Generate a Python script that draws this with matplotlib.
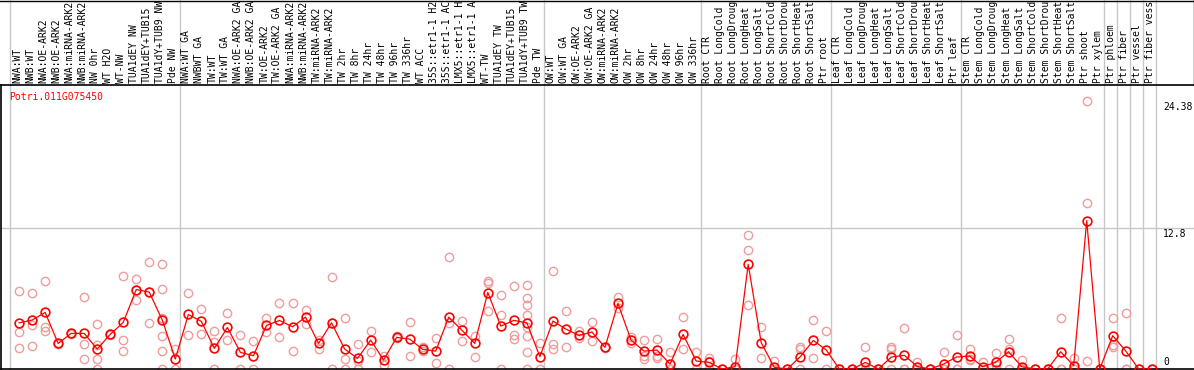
import matplotlib
matplotlib.use('Agg')
from matplotlib import pyplot as plt
from matplotlib.lines import Line2D
import matplotlib.transforms as mtransforms

gene = 'Potri.011G075450'

# sample names as they appear in the strip (long ones are cut at 14 chars)
samples = [
    'NWA:WT', 'NWB:WT', 'NWA:OE-ARK2', 'NWB:OE-ARK2', 'NWA:miRNA-ARK2', 'NWB:miRNA-ARK2',
    'NW 0hr', 'WT H2O', 'WT-NW', 'TUA1dEY NW', 'TUA1dEY+TUB15', 'TUA1dY+TUB9 NW', 'Pde NW',
    'NWA:WT GA', 'NWBWT GA', 'TW:WT', 'TW:WT GA', 'NWA:OE-ARK2 GA', 'NWB:OE-ARK2 GA',
    'TW:OE-ARK2', 'TW:OE-ARK2 GA', 'NWA:miRNA-ARK2', 'NWB:miRNA-ARK2', 'TW:miRNA-ARK2',
    'TW:miRNA-ARK2', 'TW 2hr', 'TW 8hr', 'TW 24hr', 'TW 48hr', 'TW 96hr', 'TW 336hr',
    'WT ACC', '35S::etr1-1 H2', '35S::etr1-1 AC', 'LMX5::etr1-1 H', 'LMX5::etr1-1 A',
    'WT-TW', 'TUA1dEY TW', 'TUA1dEY+TUB15', 'TUA1dY+TUB9 TW', 'Pde TW',
    'OW:WT', 'OW:WT GA', 'OW:OE-ARK2', 'OW:OE-ARK2 GA', 'OW:miRNA-ARK2', 'OW:miRNA-ARK2',
    'OW 2hr', 'OW 8hr', 'OW 24hr', 'OW 48hr', 'OW 96hr', 'OW 336hr',
    'Root CTR', 'Root LongCold', 'Root LongDroug', 'Root LongHeat', 'Root LongSalt',
    'Root ShortCold', 'Root ShortDrou', 'Root ShortHeat', 'Root ShortSalt', 'Ptr root',
    'Leaf CTR', 'Leaf LongCold', 'Leaf LongDroug', 'Leaf LongHeat', 'Leaf LongSalt',
    'Leaf ShortCold', 'Leaf ShortDrou', 'Leaf ShortHeat', 'Leaf ShortSalt', 'Ptr leaf',
    'Stem CTR', 'Stem LongCold', 'Stem LongDroug', 'Stem LongHeat', 'Stem LongSalt',
    'Stem ShortCold', 'Stem ShortDrou', 'Stem ShortHeat', 'Stem ShortSalt', 'Ptr shoot',
    'Ptr xylem', 'Ptr phloem', 'Ptr fiber', 'Ptr vessel', 'Ptr fiber vess',
]

means = [
    4.20, 4.45, 5.15, 2.33, 3.24, 3.24, 1.82, 3.15, 4.24, 7.23, 6.99, 4.45, 0.91,
    4.96, 4.33, 1.88, 3.78, 1.51, 1.21, 3.96, 4.42, 3.84, 4.72, 2.33, 4.20, 1.82,
    0.97, 2.63, 0.82, 2.88, 2.72, 1.79, 1.63, 4.72, 3.54, 2.33, 6.96, 3.90, 4.42,
    4.20, 1.12,
    4.36, 3.63, 3.06, 3.36, 1.97, 5.96, 2.63, 1.63, 1.72, 0.45, 3.15, 0.73,
    0.60, 0.0, 0.21, 9.52, 2.39, 0.15, 0.0, 1.12, 2.60, 1.72,
    0.0, 0.0, 0.60, 0.0, 1.09, 1.24, 0.21, 0.0, 0.45, 1.09,
    1.18, 0.21, 0.60, 1.57, 0.21, 0.0, 0.0, 1.57, 0.30, 13.50, 0.0,
    3.03, 1.63, 0.0, 0.0,
]

replicates = [
    [7.14, 3.33, 1.88], [6.87, 4.02, 2.12], [8.05, 3.78, 3.48], [2.4, 2.3],
    [3.3, 3.2], [6.51, 2.27, 0.91], [4.08, 2.18, 0.91, 0.0], [3.2, 3.1],
    [8.44, 2.63, 1.60], [8.17, 7.23, 6.29], [9.77, 6.99, 4.18],
    [9.59, 7.32, 4.66, 2.97, 1.63, 0.0], [1.84, 0.0],
    [6.87, 3.09], [5.42, 3.15], [3.45, 2.48, 0.0], [5.08, 2.63], [3.09, 0.0],
    [2.57, 0.0], [4.63, 3.39], [5.96, 2.88], [6.05, 1.63], [5.33, 4.11],
    [2.63, 1.84], [8.41, 4.2, 0.0], [4.60, 0.91, 0.0], [2.24, 0.7, 0.0],
    [3.45, 1.57], [1.20, 0.36], [3.0, 2.85], [4.27, 1.20], [2.03, 1.66],
    [2.84, 0.51], [10.23, 4.20, 0.0], [4.36, 2.54], [3.03, 1.12],
    [8.02, 7.78, 5.27], [6.72, 4.87, 0.0], [7.53, 3.09, 2.69],
    [7.63, 6.48, 5.81, 4.90, 3.78, 3.03, 1.51, 0.0], [2.33, 0.0],
    [8.96, 2.30, 1.82], [5.24, 1.97], [3.45, 2.78], [4.24, 2.54], [2.0, 1.9],
    [6.54, 5.51], [2.9, 2.39], [2.63, 1.20, 0.95], [2.72, 1.20, 1.0],
    [1.51, 0.0, 0.0], [4.72, 1.79], [1.51, 0.0],
    [1.0, 0.76, 0.0], [0.0, 0.0], [0.91, 0.0, 0.0], [12.17, 10.80, 5.80],
    [3.78, 0.97], [0.76, 0.0, 0.0], [0.0, 0.0], [1.97, 1.79, 0.0], [4.45, 1.0],
    [3.45, 0.0],
    [0.0, 0.0], [0.0, 0.0], [1.97, 0.0, 0.0], [0.0, 0.0], [1.97, 1.82, 0.0],
    [3.72, 0.0, 0.0], [0.67, 0.0, 0.0], [0.0, 0.0], [1.57, 0.0, 0.0], [3.09, 0.0, 0.0],
    [1.82, 0.79, 0.93], [0.67, 0.0, 0.0], [1.42, 0.4, 0.0], [2.72, 1.82, 0.0],
    [0.79, 0.0, 0.0], [0.0, 0.0], [0.0, 0.0], [4.60, 0.0, 0.0], [0.97, 0.0, 0.0],
    [24.38, 15.13, 0.76], [0.0, 0.0],
    [4.60, 2.18, 1.97], [5.08, 0.0, 0.0], [0.0, 0.0], [0.0, 0.0],
]

# group boundaries (index of first sample after each divider)
group_breaks = [0, 13, 41, 53, 63, 73, 84, 85, 86, 87, 88]
y_ticks = [0, 12.8, 24.38]

mono = 'DejaVu Sans Mono'
grey = '#c8c8c8'
red = '#ff0000'
pink = '#f09c9c'

W, H = 1194, 370
fig = plt.figure(figsize=(W / 100, H / 100), dpi=100)
ax = fig.add_axes([1 / W, 1 / H, (W - 1) / W, 284 / H])

# pixel mapping: slot centre = 17 + 13.02 * i, zero at y=369, 10.99 px per unit
px_unit = 13.02
ax.set_xlim((1 - 17.0) / px_unit, (W - 17.0) / px_unit)
ax.set_ylim(0, 284 / 10.99)

top_frac = (H - 1) / 284  # reach the top of the figure
blend = mtransforms.blended_transform_factory(ax.transData, ax.transAxes)
for b in group_breaks:
    ax.plot([b - 0.5, b - 0.5], [0, top_frac], color=grey, lw=1.0,
            transform=blend, clip_on=False, zorder=1)
ax.axhline(12.8, color=grey, lw=1.0, zorder=1)

# replicate points then the mean line
shift = 0.16
rx = [i + shift for i, reps in enumerate(replicates) for _ in reps]
ry = [v for reps in replicates for v in reps]
ax.plot(rx, ry, linestyle='none', marker='o', ms=6, mfc='none', mec=pink, mew=1.0, zorder=2)
xs = [i + shift for i in range(len(means))]
ax.plot(xs, means, color=red, lw=0.9, marker='o', ms=6.3, mfc='none', mec=red, mew=1.2, zorder=3)

# sample names above the plot
for i, name in enumerate(samples):
    ax.text(i, 1 + 2 / 284, name, transform=blend, rotation=90, ha='center', va='bottom',
            fontsize=7, family=mono, color='black', clip_on=False)

# expression scale on the right
lab_x = (1163 - 17.0) / px_unit
for v in y_ticks:
    ax.text(lab_x, v + (0.15 if v == 0 else -0.1), f'{v:g}', ha='left',
            va='bottom' if v == 0 else 'top', fontsize=7, family=mono)

ax.text((9 - 17.0) / px_unit, (369 - 97) / 10.99, gene, color=red, fontsize=7,
        family=mono, ha='left', va='center')

ax.set_xticks([])
ax.set_yticks([])
ax.spines['right'].set_visible(False)
for s in ['left', 'bottom', 'top']:
    ax.spines[s].set_linewidth(1.2)

# frame round the label strip
fig.add_artist(Line2D([0, 1], [1 - 0.5 / H, 1 - 0.5 / H], color='black', lw=1.0))
fig.add_artist(Line2D([1 - 0.5 / W, 1 - 0.5 / W], [285 / H, 1], color='black', lw=1.0))

fig.savefig('out.png', dpi=100)
